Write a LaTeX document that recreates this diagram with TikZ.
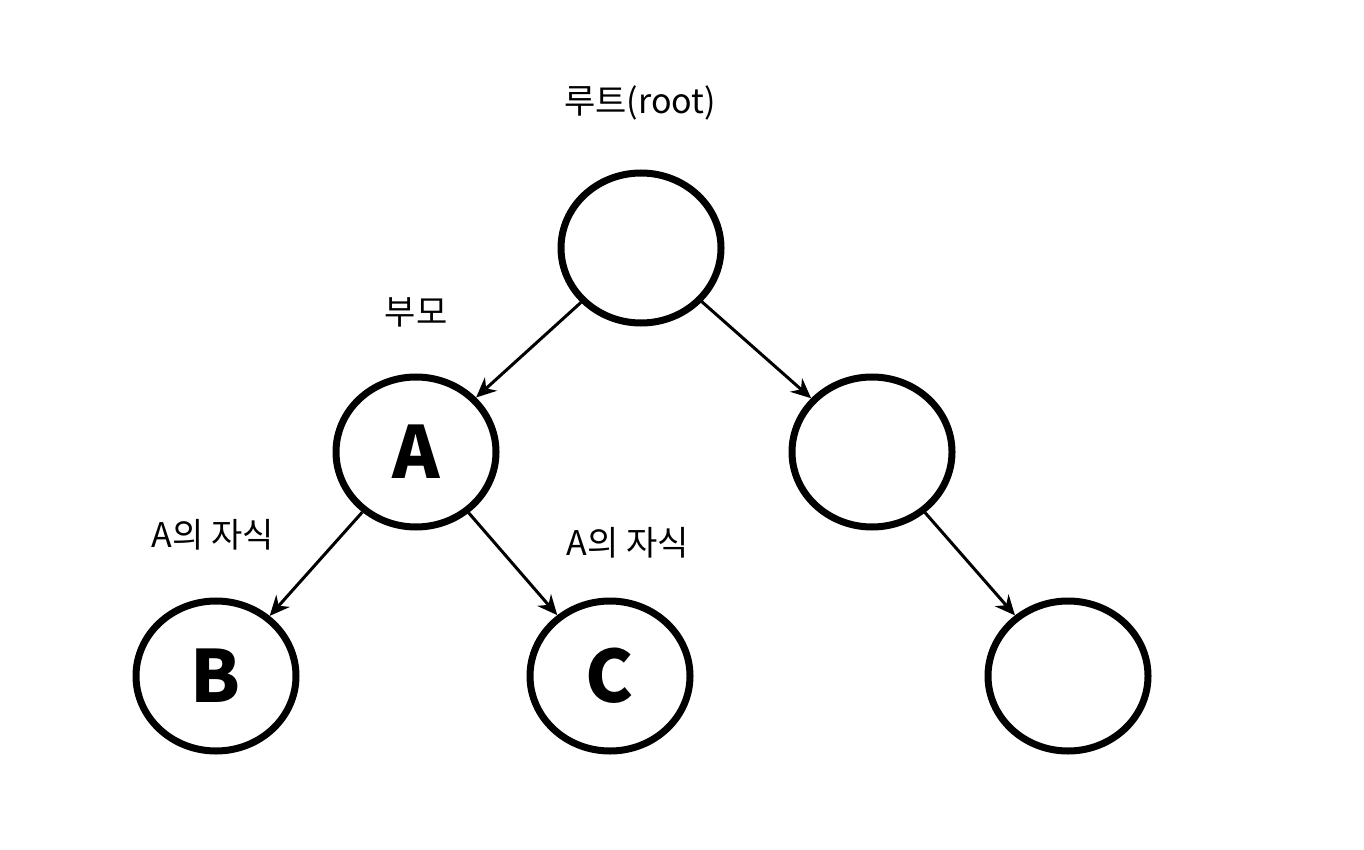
\documentclass[tikz,border=0pt]{standalone}
\usepackage{fontspec}
\setmainfont{Noto Sans CJK KR}
\usetikzlibrary{shapes.geometric,arrows.meta}
\begin{document}
\begin{tikzpicture}[x=1pt,y=-1pt,
  nd/.style={draw,line width=7pt,ellipse,minimum width=160pt,minimum height=150pt,inner sep=0pt,font=\fontsize{72}{72}\selectfont\bfseries},
  lbl/.style={font=\fontsize{34}{40}\selectfont},
  edge/.style={line width=3pt,-{Stealth[length=20pt,width=18pt]}}]
\useasboundingbox (0,0) rectangle (1364,850);
\node[nd] (r) at (641,248) {};
\node[nd] (a) at (416,452) {A};
\node[nd] (d) at (872,452) {};
\node[nd] (b) at (216,676) {B};
\node[nd] (c) at (610,676) {C};
\node[nd] (e) at (1068,676) {};
\node[lbl] (lr) at (640,103) {루트(root)};
\node[lbl] (lp) at (416,312) {부모};
\node[lbl] (lb) at (213,535) {A의 자식};
\node[lbl] (lc) at (628,543) {A의 자식};
\draw[edge] (r) -- (a);
\draw[edge] (r) -- (d);
\draw[edge] (a) -- (b);
\draw[edge] (a) -- (c);
\draw[edge] (d) -- (e);
\end{tikzpicture}
\end{document}
